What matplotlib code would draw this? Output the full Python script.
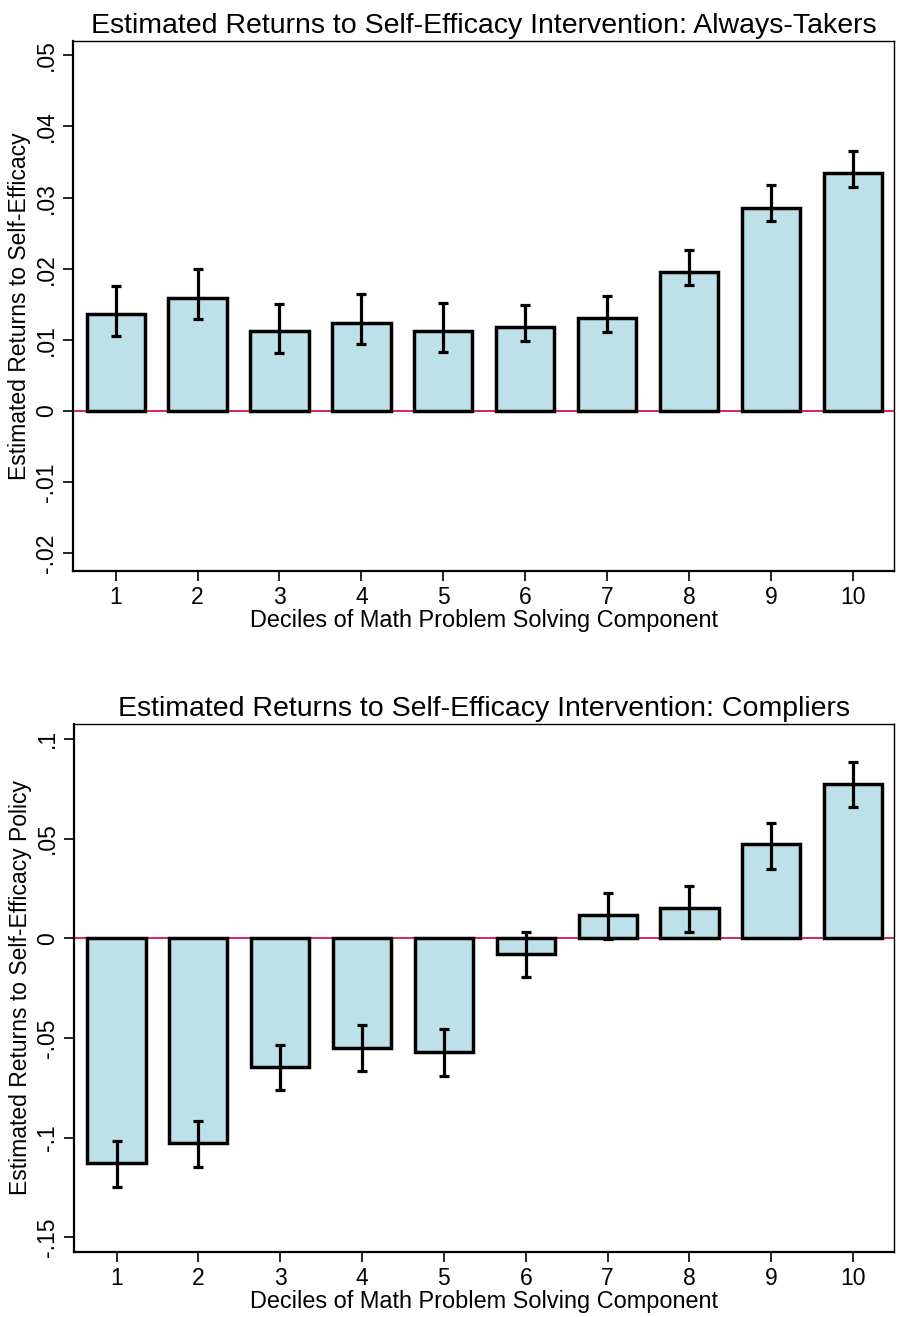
import matplotlib
matplotlib.use("Agg")
import matplotlib.pyplot as plt

plt.rcParams['font.family'] = ['Liberation Sans', 'DejaVu Sans']

deciles = [1, 2, 3, 4, 5, 6, 7, 8, 9, 10]

# Always-takers: point estimates and CI bounds
at_est = [0.0136, 0.0159, 0.0112, 0.0124, 0.0113, 0.0118, 0.0131, 0.0196, 0.0286, 0.0335]
at_lo = [0.0106, 0.0129, 0.0081, 0.0094, 0.0083, 0.0099, 0.0111, 0.0177, 0.0267, 0.0315]
at_hi = [0.0176, 0.0199, 0.0151, 0.0165, 0.0152, 0.0149, 0.0161, 0.0227, 0.0317, 0.0365]

# Compliers
co_est = [-0.1127, -0.1028, -0.0647, -0.0549, -0.0570, -0.0079, 0.0117, 0.0150, 0.0471, 0.0775]
co_lo = [-0.1250, -0.1149, -0.0764, -0.0666, -0.0689, -0.0196, -0.0005, 0.0032, 0.0349, 0.0657]
co_hi = [-0.1017, -0.0917, -0.0534, -0.0433, -0.0456, 0.0033, 0.0227, 0.0261, 0.0580, 0.0886]

at_ticks = [-0.02, -0.01, 0, 0.01, 0.02, 0.03, 0.04, 0.05]
at_ticklabels = ["-.02", "-.01", "0", ".01", ".02", ".03", ".04", ".05"]
co_ticks = [-0.15, -0.1, -0.05, 0, 0.05, 0.1]
co_ticklabels = ["-.15", "-.1", "-.05", "0", ".05", ".1"]

BAR_COLOR = "#bee0e8"


def draw_panel(ax, est, lo, hi, ticks, ticklabels, ylim, title, ylabel):
    ax.bar(deciles, est, width=0.71, color=BAR_COLOR, edgecolor="black", linewidth=2.5, zorder=2)
    ax.axhline(0, color="#d6003a", linewidth=1.2, zorder=1)
    yerr = [[e - l for e, l in zip(est, lo)], [h - e for e, h in zip(est, hi)]]
    ax.errorbar(deciles, est, yerr=yerr, fmt="none", ecolor="black", elinewidth=2.3,
                capsize=3.6, capthick=2.3, zorder=3)
    ax.set_xlim(0.48, 10.5)
    ax.set_ylim(*ylim)
    ax.set_xticks(deciles)
    ax.set_xticklabels([str(d) for d in deciles], fontsize=16.5)
    ax.set_yticks(ticks)
    ax.set_yticklabels(ticklabels, fontsize=16.5, rotation=90, va="center")
    ax.tick_params(axis="both", direction="out", length=7, width=1.2, pad=4)
    for side in ["left", "bottom"]:
        ax.spines[side].set_linewidth(1.6)
    for side in ["top", "right"]:
        ax.spines[side].set_linewidth(1.0)
    ax.set_title(title, fontsize=20.5, pad=6)
    ax.set_xlabel("Deciles of Math Problem Solving Component", fontsize=16.9, labelpad=0)
    ax.set_ylabel(ylabel, fontsize=16.5, labelpad=3)


fig = plt.figure(figsize=(8.99, 13.17), dpi=100)
ax1 = fig.add_axes([0.0812, 0.5664, 0.9133, 0.4024])
ax2 = fig.add_axes([0.0823, 0.0494, 0.9122, 0.4009])

draw_panel(ax1, at_est, at_lo, at_hi, at_ticks, at_ticklabels, (-0.0225, 0.0520),
           "Estimated Returns to Self-Efficacy Intervention: Always-Takers",
           "Estimated Returns to Self-Efficacy")
draw_panel(ax2, co_est, co_lo, co_hi, co_ticks, co_ticklabels, (-0.1574, 0.1075),
           "Estimated Returns to Self-Efficacy Intervention: Compliers",
           "Estimated Returns to Self-Efficacy Policy")

fig.savefig("out.png", dpi=100)
